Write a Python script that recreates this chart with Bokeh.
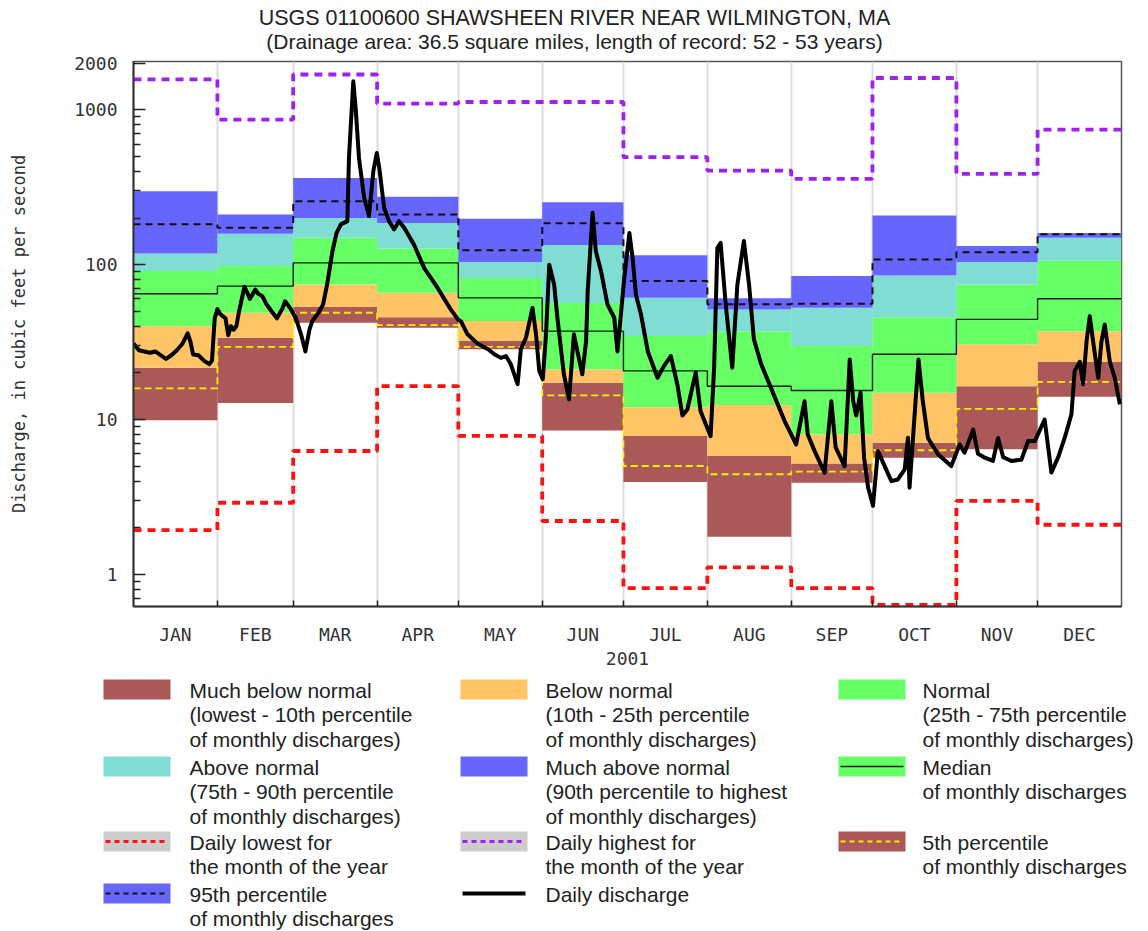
from bokeh.plotting import figure
from bokeh.layouts import column
from bokeh.models import Range1d, FixedTicker, CustomJSTickFormatter
from bokeh.core.properties import value
from bokeh.embed import file_html
from bokeh.resources import INLINE

# ---------------- data ----------------
title_text = "USGS 01100600 SHAWSHEEN RIVER NEAR WILMINGTON, MA"
subtitle_text = "(Drainage area: 36.5 square miles, length of record: 52 - 53 years)"
year_label = "2001"
y_label = "Discharge, in cubic feet per second"

months = ["JAN", "FEB", "MAR", "APR", "MAY", "JUN", "JUL", "AUG", "SEP", "OCT", "NOV", "DEC"]
month_start = [0, 31, 59, 90, 120, 151, 181, 212, 243, 273, 304, 334]
month_end = [31, 59, 90, 120, 151, 181, 212, 243, 273, 304, 334, 365]

daily_highest = [1570, 865, 1690, 1096, 1123, 1123, 494, 405, 358, 1604, 385, 745]
p_max = [298, 211, 363, 274, 198, 253, 115, 60.6, 84.3, 208, 132, 160]
p95 = [182, 173, 257, 211, 124, 185, 78.3, 55.4, 55.9, 108, 120, 157]
p90 = [118, 158, 200, 186, 104, 134, 61.1, 51.4, 52.6, 85.2, 104, 149]
p75 = [91, 98, 149, 127, 82, 56.5, 34.6, 37.2, 29.8, 45.8, 74.5, 106]
p50 = [64.8, 72.6, 102.7, 102.7, 61, 37.2, 20.6, 16.4, 15.4, 26.4, 44.3, 60.2]
p25 = [40, 48.9, 74.5, 65.8, 43.2, 21.1, 12.0, 12.4, 8.03, 14.9, 30.6, 37.2]
p10 = [21.6, 33.7, 53.2, 45.8, 32.1, 17.3, 7.83, 5.82, 5.19, 7.08, 16.4, 23.5]
p05 = [15.9, 29.4, 48.9, 40.7, 29.4, 14.3, 5.01, 4.43, 4.61, 6.33, 11.7, 17.5]
p_min = [9.9, 12.8, 42.2, 39.1, 28.4, 8.5, 3.95, 1.75, 3.91, 5.67, 6.42, 14.0]
daily_lowest = [1.93, 2.9, 6.26, 16.4, 7.83, 2.21, 0.815, 1.11, 0.815, 0.635, 2.98, 2.09]

flow_day = [
    0, 2, 4, 6, 8, 10, 12, 14, 16, 18, 20, 21, 22, 24, 26, 28, 29, 30, 31,
    32, 34, 35, 36, 37, 38, 39, 41, 42, 43, 45, 46, 47.6, 49, 51, 53, 55, 56, 58,
    60, 62, 63.5, 65, 66, 68, 70, 71.5, 73.5, 75, 76.6, 79, 79.6, 81.2, 82.1, 83.3,
    85.2, 87, 88.6, 89.9, 90.8, 92.6, 94.4, 96.3, 98.1, 100, 103.6, 107.4, 112.3, 117, 120,
    121, 123.4, 127, 131, 133.3, 135.7, 137.6, 139.4, 141.9, 143.1, 145, 147.4, 148.7,
    149.9, 151.2,
    152.4, 153.6, 155.4, 156.6, 159, 160.9, 162.7, 164, 165.8, 167.2, 167.8, 169.6,
    170.8, 172.7, 175.1, 177.6, 178.8, 181.3, 183.2, 184.4, 185.6, 187.5, 190, 193.6,
    196, 198.5, 200.9, 202.8, 204.6, 207.7, 209.5, 213.2, 214.5, 215.7, 216.9, 218.8,
    221.2, 223.1, 225.5, 227.4, 229.2, 231.9, 235.5, 240.5, 244.8,
    247.9, 249.1, 251.6, 255.3, 257.8, 259.4, 262.7, 264.6, 265.9, 267, 268.6, 269.9,
    271.4, 273.2, 275, 277.5, 280, 282.4, 284.9, 286.1, 286.7, 288.5, 290, 291.6,
    293.5, 297.2, 302.1, 305.2, 307, 310.2, 312, 314.5, 317.5, 319.4, 321.3, 324.3,
    328, 330.5, 333, 336.6, 339.1, 341.6, 344, 346.5, 347.7, 349.6, 350.8, 352.1,
    353.3, 354.5, 356.4, 357.6, 358.8, 360.7, 362.5, 364.4,
]
flow_cfs = [
    31, 28, 27.5, 27, 27.5, 26, 24.6, 26, 28, 30.7, 36, 32, 26.3, 26, 24, 22.8, 24, 45, 51.6,
    48, 45, 35, 40, 38, 40, 50, 72, 66, 60, 69, 65, 62.6, 56, 50, 45, 52, 58, 52,
    45, 35, 27.5, 38, 43, 48, 55, 74, 122, 160, 182, 191, 489, 1527, 1008, 489,
    270, 206, 401, 526, 421, 232, 191, 169, 191, 173, 135, 95, 71, 52, 44,
    43, 35.5, 31, 28.4, 26.4, 25, 25.7, 22.7, 16.9, 28.4, 33.7, 52.6, 35.5,
    20.6, 18.2,
    35.5, 100, 74.5, 45.4, 19.6, 13.5, 35.5, 27.5, 19.6, 32, 67.5, 216,
    122, 91, 55.4, 45.4, 27.5, 82, 160, 110, 64, 47.6, 27.5, 18.6,
    22.2, 25.7, 16.9, 10.6, 11.6, 20.1, 11.3, 7.8, 21.6, 128, 138, 55,
    21.6, 74.5, 142, 74.5, 33, 22.7, 16, 9.8, 6.9,
    13.1, 8, 6.27, 4.54, 13.1, 6.6, 5.0, 24.4, 13.1, 10.6, 14.9, 5.67,
    3.63, 2.77, 6.27, 5.0, 4.0, 4.1, 4.77, 7.63, 3.63, 10.3, 24.4, 13.1,
    7.6, 5.96, 5.0, 6.9, 6.1, 8.6, 6.0, 5.67, 5.4, 7.6, 5.7, 5.4,
    5.5, 7.25, 7.25, 10.0, 4.54, 5.7, 7.6, 10.8, 20.6, 23.6, 16.9, 32.1,
    46.5, 32, 18.6, 32, 41, 23.6, 18.6, 12.5,
]

legend_entries = [
    # (column, row, swatch kind, text lines)
    (0, 0, "much_below", ["Much below normal", "(lowest - 10th percentile", "of monthly discharges)"]),
    (1, 0, "below", ["Below normal", "(10th - 25th percentile", "of monthly discharges)"]),
    (2, 0, "normal", ["Normal", "(25th - 75th percentile", "of monthly discharges)"]),
    (0, 1, "above", ["Above normal", "(75th - 90th percentile", "of monthly discharges)"]),
    (1, 1, "much_above", ["Much above normal", "(90th percentile to highest", "of monthly discharges)"]),
    (2, 1, "median", ["Median", "of monthly discharges"]),
    (0, 2, "lowest", ["Daily lowest for", "the month of the year"]),
    (1, 2, "highest", ["Daily highest for", "the month of the year"]),
    (2, 2, "p05", ["5th percentile", "of monthly discharges"]),
    (0, 3, "p95", ["95th percentile", "of monthly discharges"]),
    (1, 3, "daily", ["Daily discharge"]),
]

# ---------------- styles ----------------
C_MUCH_BELOW = "#AA5858"
C_BELOW = "#FFC466"
C_NORMAL = "#66FF66"
C_ABOVE = "#80DDD4"
C_MUCH_ABOVE = "#6666FF"
C_GRAYSW = "#CCCCCC"
C_RED = "#FF1010"
C_PURPLE = "#A020F0"
C_YELLOW = "#FFEE00"

SANS = value("Liberation Sans")
MONO_NAME = "DejaVu Sans Mono"
W = 1148
TEXT_C = "#222222"


def no_align(fig):
    try:
        fig.frame_align = False
    except Exception:
        pass


# ---------------- header ----------------
HEAD_H = 54
head = figure(width=W, height=HEAD_H, x_range=Range1d(0, W), y_range=Range1d(HEAD_H, 0),
              x_axis_type=None, y_axis_type=None, toolbar_location=None,
              output_backend="svg", min_border=0, min_border_left=0,
              min_border_right=0, min_border_top=0, min_border_bottom=0)
head.grid.visible = False
head.outline_line_color = None
head.text(x=[574], y=[17], text=[title_text],
          text_align="center", text_baseline="middle", text_font=SANS,
          text_font_size="21.5px", text_color=TEXT_C)
head.text(x=[574], y=[41], text=[subtitle_text],
          text_align="center", text_baseline="middle", text_font=SANS,
          text_font_size="21px", text_color=TEXT_C)
no_align(head)

# ---------------- main plot ----------------
p = figure(width=W, height=616, y_axis_type="log",
           x_range=Range1d(0, 365), y_range=Range1d(0.62, 2050),
           toolbar_location=None, output_backend="svg",
           min_border_left=133, min_border_right=27, min_border_top=7, min_border_bottom=64)
p.background_fill_color = "white"
p.outline_line_color = "#555555"
p.outline_line_width = 1.5
no_align(p)

bands = [
    (p_min, p10, C_MUCH_BELOW),
    (p10, p25, C_BELOW),
    (p25, p75, C_NORMAL),
    (p75, p90, C_ABOVE),
    (p90, p_max, C_MUCH_ABOVE),
]
for lo, hi, col in bands:
    p.quad(left=month_start, right=month_end, bottom=lo, top=hi,
           fill_color=col, line_color=None)

step_x = month_start + [month_end[-1]]


def stepped(vals):
    return vals + [vals[-1]]


p.step(step_x, stepped(p50), mode="after", line_color="#102010", line_width=1.4)
p.step(step_x, stepped(p95), mode="after", line_color="#111111", line_width=2, line_dash="7 5")
p.step(step_x, stepped(p05), mode="after", line_color=C_YELLOW, line_width=1.8, line_dash="7 4")
p.step(step_x, stepped(daily_lowest), mode="after", line_color=C_RED, line_width=3.8, line_dash="8 6")
p.step(step_x, stepped(daily_highest), mode="after", line_color=C_PURPLE, line_width=3.8, line_dash="8 6")

p.line(flow_day, flow_cfs, line_color="black", line_width=4, line_join="round")

# axes
mid = [(a + b) / 2 for a, b in zip(month_start, month_end)]
p.xaxis.ticker = FixedTicker(ticks=mid, minor_ticks=month_start[1:])
p.xaxis.major_label_overrides = {m: name for m, name in zip(mid, months)}
p.xaxis.major_tick_in = 0
p.xaxis.major_tick_out = 0
p.xaxis.minor_tick_in = 6
p.xaxis.minor_tick_out = 0
p.xaxis.minor_tick_line_color = "#222222"
p.xaxis.minor_tick_line_width = 1.5
p.xaxis.major_label_standoff = 17
p.xaxis.axis_label = year_label
p.xaxis.axis_label_standoff = 4
p.xaxis.axis_label_text_font = MONO_NAME
p.xaxis.axis_label_text_font_size = "18px"
p.xaxis.axis_label_text_font_style = "normal"
p.xaxis.axis_label_text_color = "#333333"

p.yaxis.ticker = FixedTicker(
    ticks=[1, 10, 100, 1000, 2000],
    minor_ticks=[0.7, 0.8, 0.9, 2, 3, 4, 5, 6, 7, 8, 9, 20, 30, 40, 50, 60, 70, 80, 90,
                 200, 300, 400, 500, 600, 700, 800, 900])
p.yaxis.formatter = CustomJSTickFormatter(code="return tick.toString();")
p.yaxis.major_tick_in = 12
p.yaxis.major_tick_out = 0
p.yaxis.minor_tick_in = 7
p.yaxis.minor_tick_out = 0
p.yaxis.major_tick_line_color = "#222222"
p.yaxis.minor_tick_line_color = "#222222"
p.yaxis.major_tick_line_width = 1.5
p.yaxis.minor_tick_line_width = 1.5
p.yaxis.major_label_standoff = 16
p.yaxis.axis_label = y_label
p.yaxis.axis_label_standoff = 42
p.yaxis.axis_label_text_font = MONO_NAME
p.yaxis.axis_label_text_font_size = "17px"
p.yaxis.axis_label_text_font_style = "normal"
p.yaxis.axis_label_text_color = "#333333"

for ax in (p.xaxis, p.yaxis):
    ax.axis_line_color = "#333333"
    ax.axis_line_width = 2
    ax.major_label_text_font = MONO_NAME
    ax.major_label_text_font_size = "18px"
    ax.major_label_text_color = "#333333"

p.xgrid.ticker = FixedTicker(ticks=month_start[1:])
p.xgrid.grid_line_color = "#DDDDDD"
p.xgrid.grid_line_width = 2
p.ygrid.visible = False

# ---------------- legend ----------------
LEG_H = 261
leg = figure(width=W, height=LEG_H, x_range=Range1d(0, W), y_range=Range1d(LEG_H, 0),
             x_axis_type=None, y_axis_type=None, toolbar_location=None,
             output_backend="svg", min_border=0, min_border_left=0,
             min_border_right=0, min_border_top=0, min_border_bottom=0)
leg.grid.visible = False
leg.outline_line_color = None
no_align(leg)

col_sw_left = [103, 460, 838]
col_text_x = [189, 545, 922]
row_top = [9, 86, 161, 213]
SW_W, SW_H = 67, 20
LINE_GAP = 24.3

fill_for = {
    "much_below": C_MUCH_BELOW, "below": C_BELOW, "normal": C_NORMAL,
    "above": C_ABOVE, "much_above": C_MUCH_ABOVE, "median": C_NORMAL,
    "lowest": C_GRAYSW, "highest": C_GRAYSW, "p05": C_MUCH_BELOW,
    "p95": C_MUCH_ABOVE, "daily": None,
}
line_for = {
    "median": dict(line_color="#102010", line_width=1.5),
    "lowest": dict(line_color=C_RED, line_width=3, line_dash="5 4"),
    "highest": dict(line_color=C_PURPLE, line_width=3, line_dash="5 4"),
    "p05": dict(line_color=C_YELLOW, line_width=1.8, line_dash="5 4"),
    "p95": dict(line_color="#111111", line_width=2, line_dash="5 4"),
    "daily": dict(line_color="black", line_width=4),
}

for c, r, kind, lines in legend_entries:
    x0 = col_sw_left[c]
    y0 = row_top[r]
    f = fill_for[kind]
    if f is not None:
        leg.quad(left=[x0], right=[x0 + SW_W], top=[y0], bottom=[y0 + SW_H],
                 fill_color=f, line_color=None)
    if kind in line_for:
        leg.line([x0 + 2, x0 + SW_W - 2], [y0 + SW_H / 2, y0 + SW_H / 2], **line_for[kind])
    ys = [y0 + 11 + i * LINE_GAP for i in range(len(lines))]
    leg.text(x=[col_text_x[c]] * len(lines), y=ys, text=lines,
             text_align="left", text_baseline="middle", text_font=SANS,
             text_font_size="21px", text_color=TEXT_C)

layout = column(head, p, leg, spacing=0)
open("out.html", "w").write(file_html(layout, INLINE))
